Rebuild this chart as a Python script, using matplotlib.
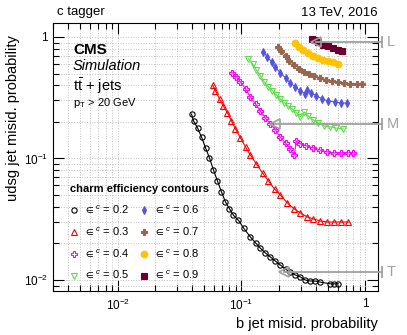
import matplotlib
matplotlib.use('Agg')
import matplotlib.pyplot as plt
from matplotlib.ticker import NullFormatter
import numpy as np

plt.rcParams['font.family'] = ['Liberation Sans', 'DejaVu Sans']
plt.rcParams['mathtext.fontset'] = 'custom'
plt.rcParams['mathtext.rm'] = 'Liberation Sans'
plt.rcParams['mathtext.it'] = 'Liberation Sans:italic'
plt.rcParams['mathtext.fallback'] = 'stixsans'

# charm efficiency contours: (b misid, udsg misid)
b_02 = [0.0395, 0.0410, 0.0442, 0.0476, 0.0513, 0.0552, 0.0594, 0.0640, 0.0690, 0.0743,
        0.0800, 0.0862, 0.0946, 0.104, 0.118, 0.130, 0.142, 0.156, 0.171, 0.188,
        0.206, 0.227, 0.248, 0.272, 0.299, 0.328, 0.360, 0.395, 0.434, 0.522, 0.562, 0.606]
l_02 = [0.232, 0.204, 0.178, 0.150, 0.122, 0.101, 0.0804, 0.0653, 0.0530, 0.0438,
        0.0386, 0.0341, 0.0310, 0.0268, 0.0226, 0.0202, 0.0183, 0.0167, 0.0155, 0.0143,
        0.0133, 0.0123, 0.0116, 0.0110, 0.0106, 0.0100, 0.0098, 0.0098, 0.0096, 0.0093, 0.0093, 0.0093]

b_03 = [0.0584, 0.0617, 0.0665, 0.0716, 0.0771, 0.0830, 0.0895, 0.0982, 0.108, 0.118,
        0.132, 0.148, 0.165, 0.185, 0.206, 0.235, 0.267, 0.299, 0.340, 0.381,
        0.434, 0.494, 0.562, 0.640, 0.730]
l_03 = [0.403, 0.360, 0.309, 0.270, 0.237, 0.204, 0.175, 0.148, 0.124, 0.107,
        0.0901, 0.0760, 0.0653, 0.0561, 0.0501, 0.0430, 0.0384, 0.0356, 0.0330, 0.0318,
        0.0306, 0.0300, 0.0300, 0.0300, 0.0300]

b_04 = [0.0846, 0.0912, 0.0982, 0.108, 0.118, 0.130, 0.142, 0.156, 0.171, 0.188,
        0.206, 0.227, 0.248, 0.267, 0.278, 0.299, 0.334, 0.381, 0.434, 0.494,
        0.562, 0.640, 0.730, 0.800]
l_04 = [0.506, 0.469, 0.426, 0.373, 0.321, 0.281, 0.246, 0.215, 0.192, 0.172,
        0.150, 0.134, 0.120, 0.107, 0.139, 0.132, 0.127, 0.122, 0.117, 0.113,
        0.111, 0.111, 0.111, 0.111]

b_05 = [0.114, 0.123, 0.132, 0.142, 0.153, 0.165, 0.178, 0.191, 0.206, 0.222,
        0.239, 0.258, 0.278, 0.299, 0.322, 0.347, 0.381, 0.418, 0.467, 0.522,
        0.584, 0.665]
l_05 = [0.659, 0.600, 0.535, 0.478, 0.426, 0.388, 0.360, 0.333, 0.309, 0.286,
        0.270, 0.255, 0.237, 0.220, 0.241, 0.224, 0.207, 0.196, 0.185, 0.182,
        0.178, 0.175]

b_06 = [0.150, 0.162, 0.175, 0.188, 0.206, 0.227, 0.248, 0.272, 0.299, 0.328,
        0.340, 0.367, 0.403, 0.450, 0.503, 0.573, 0.640, 0.716]
l_06 = [0.753, 0.685, 0.623, 0.566, 0.506, 0.460, 0.418, 0.388, 0.360, 0.340,
        0.366, 0.346, 0.327, 0.309, 0.297, 0.292, 0.286, 0.286]

b_07 = [0.199, 0.210, 0.227, 0.244, 0.267, 0.294, 0.322, 0.353, 0.388, 0.434,
        0.485, 0.542, 0.606, 0.677, 0.757, 0.861, 0.946]
l_07 = [0.828, 0.767, 0.698, 0.634, 0.589, 0.546, 0.515, 0.496, 0.478, 0.460,
        0.443, 0.434, 0.426, 0.418, 0.410, 0.410, 0.410]

b_08 = [0.272, 0.294, 0.316, 0.347, 0.381, 0.418, 0.458, 0.503, 0.552, 0.606]
l_08 = [0.893, 0.828, 0.782, 0.738, 0.698, 0.671, 0.647, 0.634, 0.623, 0.600]

b_09 = [0.374, 0.395, 0.418, 0.458, 0.503, 0.552, 0.606, 0.653]
l_09 = [0.963, 0.945, 0.910, 0.859, 0.843, 0.812, 0.782, 0.767]

eff_labels = ['0.2', '0.3', '0.4', '0.5', '0.6', '0.7', '0.8', '0.9']

# working points L, M, T
wp_names = ['L', 'M', 'T']
wp_b = [0.40, 0.188, 0.222]
wp_l = [0.915, 0.192, 0.0116]

curves = [(b_02, l_02), (b_03, l_03), (b_04, l_04), (b_05, l_05),
          (b_06, l_06), (b_07, l_07), (b_08, l_08), (b_09, l_09)]
colors = ['black', '#ff0000', '#ff00ff', '#5fdc4c', '#5555e0', '#98664f', '#ffc400', '#6b0030']
markers = ['o', '^', 'P', 'v', 'd', 'P', 'o', 's']
fills = ['none', 'none', 'none', 'none', 'full', 'full', 'full', 'full']
msizes = [3.8, 3.8, 4.2, 3.8, 3.8, 4.8, 4.8, 4.3]

fig = plt.figure(figsize=(4.07, 3.35), dpi=100)
ax = fig.add_axes([0.130, 0.131, 0.799, 0.800])

for i in range(len(curves)):
    bx, ly = curves[i]
    ax.plot(bx, ly, color=colors[i], marker=markers[i], fillstyle=fills[i],
            markersize=msizes[i], markeredgewidth=0.8, linewidth=0.8,
            label=r'$\in^{c}$ = ' + eff_labels[i])

grey = '#a0a0a0'
for i in range(3):
    ax.plot([wp_b[i], 1.37], [wp_l[i], wp_l[i]], color=grey, linewidth=1.3, clip_on=False, zorder=5)
    ax.plot([wp_b[i]], [wp_l[i]], marker='<', fillstyle='none', color=grey, markersize=7,
            markeredgewidth=1.2, clip_on=False, zorder=5)
    ax.plot([1.37], [wp_l[i]], marker='|', color=grey, markersize=8, markeredgewidth=1.3,
            clip_on=False, zorder=5)
    ax.text(1.5, wp_l[i], wp_names[i], color=grey, fontsize=10.5, ha='left', va='center')

ax.set_xscale('log')
ax.set_yscale('log')
ax.set_xlim(0.003, 1.27)
ax.set_ylim(0.0081, 1.3)

ax.set_xticks([0.01, 0.1, 1])
ax.set_xticklabels(['10$^{-2}$', '10$^{-1}$', '1'])
ax.set_yticks([0.01, 0.1, 1])
ax.set_yticklabels(['10$^{-2}$', '10$^{-1}$', '1'])
ax.xaxis.set_minor_formatter(NullFormatter())
ax.yaxis.set_minor_formatter(NullFormatter())

ax.tick_params(which='both', direction='in', top=True, right=True, labelsize=8.5)
ax.tick_params(which='major', length=8, width=0.8)
ax.tick_params(which='minor', length=4, width=0.8)
ax.tick_params(axis='x', pad=5)

ax.grid(True, which='both', linestyle=':', color='#c0c0c0', linewidth=0.7)
ax.set_axisbelow(True)

ax.set_xlabel('b jet misid. probability', loc='right', fontsize=10.5, labelpad=3)
ax.set_ylabel('udsg jet misid. probability', fontsize=10.5, ha='right')
ax.yaxis.set_label_coords(-0.10, 0.955)

fig.text(0.140, 0.945, 'c tagger', fontsize=9.5, ha='left', va='bottom')
fig.text(0.929, 0.945, '13 TeV, 2016', fontsize=9.5, ha='right', va='bottom')

ax.text(0.062, 0.9, 'CMS', transform=ax.transAxes, fontsize=11, fontweight='bold', va='center')
ax.text(0.062, 0.84, 'Simulation', transform=ax.transAxes, fontsize=10.5, style='italic', va='center')
ax.text(0.062, 0.765, r'$\mathrm{t\bar{t}}$ + jets', transform=ax.transAxes, fontsize=10.5, va='center')
ax.text(0.062, 0.703, r'p$_{\mathrm{T}}$ > 20 GeV', transform=ax.transAxes, fontsize=8, va='center')

leg = ax.legend(ncol=2, loc='upper left', bbox_to_anchor=(0.035, 0.42), frameon=False,
                title='charm efficiency contours', title_fontproperties={'weight': 'bold', 'size': 8},
                fontsize=8, handlelength=0.8, handletextpad=0.5, columnspacing=0.9,
                labelspacing=0.85, borderpad=0)
leg._legend_box.align = 'left'
for h in leg.legend_handles:
    h.set_linestyle('none')

fig.savefig('out.png', dpi=100)
